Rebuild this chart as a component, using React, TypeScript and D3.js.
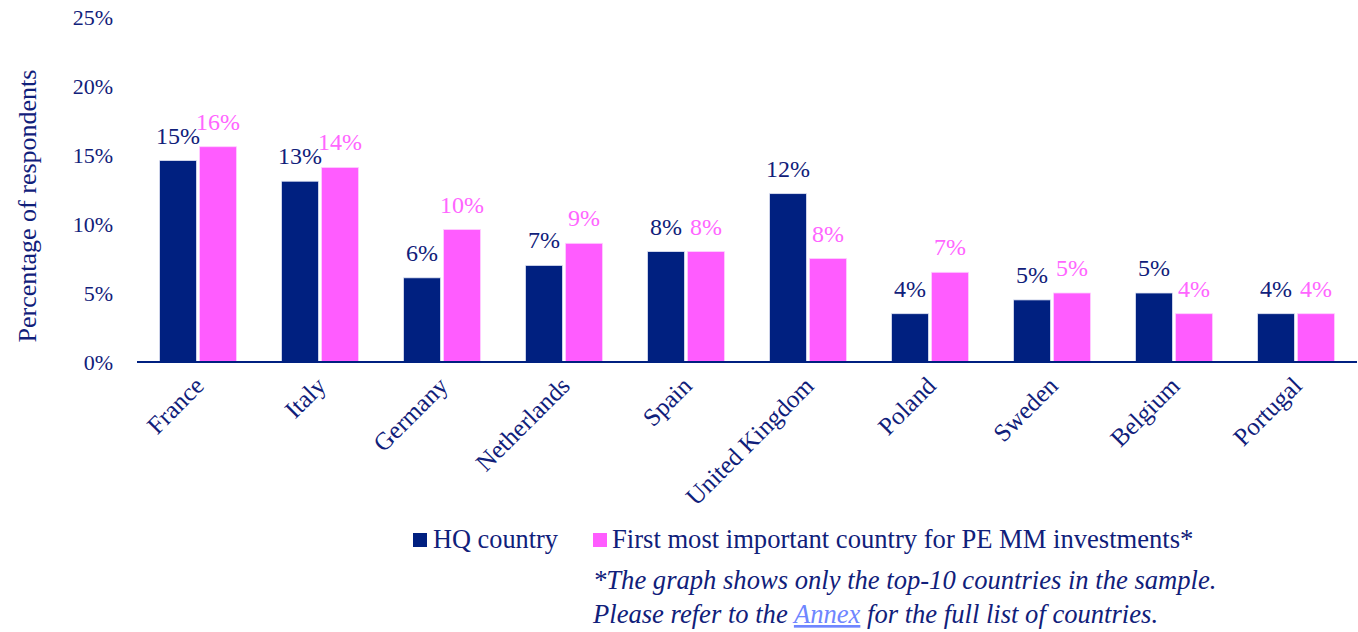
import React from "react";
import * as d3 from "d3";

const categories = ["France", "Italy", "Germany", "Netherlands", "Spain", "United Kingdom", "Poland", "Sweden", "Belgium", "Portugal"];
const hqValues = [14.6, 13.1, 6.1, 7.0, 8.0, 12.2, 3.5, 4.5, 5.0, 3.5];
const investValues = [15.6, 14.1, 9.6, 8.6, 8.0, 7.5, 6.5, 5.0, 3.5, 3.5];
const yTicks = [0, 5, 10, 15, 20, 25];
const seriesNames = ["HQ country", "First most important country for PE MM investments*"];

const W = 1358, H = 632;
const NAVY = "#002080";
const PINK = "#ff5cff";
const TEXT = "#10207a";
const PINK_TEXT = "#ff66ff";
const FONT = "'Liberation Serif', 'Times New Roman', serif";

export default function App() {
  const x = d3.scaleBand<string>().domain(categories).range([137, 1357]).paddingInner(0).paddingOuter(0);
  const y = d3.scaleLinear().domain([0, 25]).range([362, 17]);
  const barW = 37;
  const gap = 3;
  return (
    <svg width={W} height={H} style={{ position: "absolute", left: 0, top: 0, background: "#fff" }}>
      <g fontFamily={FONT}>
        {yTicks.map((t) => (
          <text key={t} x={113} y={y(t)} dy="0.35em" textAnchor="end" fontSize={22} fill={TEXT}>{t}%</text>
        ))}
        <text transform={`translate(36,206) rotate(-90)`} textAnchor="middle" fontSize={26} fill={TEXT}>Percentage of respondents</text>
        {categories.map((c, i) => {
          const cx = (x(c) as number) + x.bandwidth() / 2;
          const x1 = cx - gap / 2 - barW;
          const x2 = cx + gap / 2;
          return (
            <g key={c}>
              <rect x={x1} y={y(hqValues[i])} width={barW} height={y(0) - y(hqValues[i])} fill={NAVY} stroke="#dfe3f3" strokeWidth={0.8} />
              <rect x={x2} y={y(investValues[i])} width={barW} height={y(0) - y(investValues[i])} fill={PINK} stroke="#ffd0ff" strokeWidth={0.8} />
              <text x={x1 + barW / 2} y={y(hqValues[i]) - 17} textAnchor="middle" fontSize={24} fill={TEXT}>{Math.round(hqValues[i])}%</text>
              <text x={x2 + barW / 2} y={y(investValues[i]) - 17} textAnchor="middle" fontSize={24} fill={PINK_TEXT}>{Math.round(investValues[i])}%</text>
              <text transform={`translate(${cx - 5},${375}) rotate(-45)`} textAnchor="end" fontSize={25} fill={TEXT} dy="0.7em">{c}</text>
            </g>
          );
        })}
        <line x1={137} x2={1357} y1={y(0)} y2={y(0)} stroke={NAVY} strokeWidth={2} />
        <rect x={413} y={533} width={14} height={14} fill={NAVY} />
        <text x={433} y={548} fontSize={26.3} fill={TEXT}>{seriesNames[0]}</text>
        <rect x={593} y={533} width={14} height={14} fill={PINK} />
        <text x={612} y={548} fontSize={26.6} fill={TEXT}>{seriesNames[1]}</text>
        <text x={593} y={589} fontSize={26.6} fontStyle="italic" fill={TEXT}>*The graph shows only the top-10 countries in the sample.</text>
        <text x={593} y={623} fontSize={26.6} fontStyle="italic" fill={TEXT}>
          Please refer to the <tspan fill="#6f86ff" textDecoration="underline">Annex</tspan> for the full list of countries.
        </text>
      </g>
    </svg>
  );
}
